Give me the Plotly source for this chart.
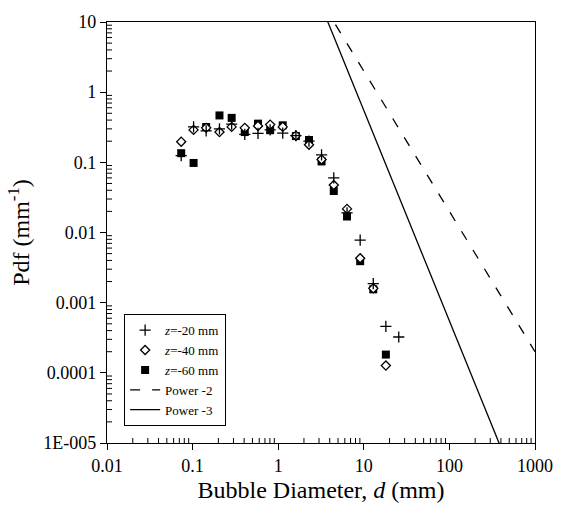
import math
import plotly.graph_objects as go

# Bubble size bins (mm)
diameter = [0.0736, 0.1027, 0.144, 0.206, 0.286, 0.407, 0.581, 0.805, 1.13,
            1.61, 2.29, 3.21, 4.46, 6.37, 9.07, 12.9, 18.1, 25.6]

# Probability density (1/mm) at three heights
pdf_z20 = [0.125, 0.32, 0.28, 0.30, 0.35, 0.25, 0.258, 0.29, 0.26,
           0.24, 0.20, 0.128, 0.060, 0.019, 0.0078, 0.00187, 0.000458, 0.000324]
pdf_z40 = [0.197, 0.29, 0.31, 0.27, 0.32, 0.31, 0.33, 0.345, 0.32,
           0.24, 0.178, 0.11, 0.0475, 0.0217, 0.0043, 0.0016, 0.000127, None]
pdf_z60 = [0.135, 0.098, 0.319, 0.466, 0.43, 0.27, 0.356, 0.287, 0.337,
           0.237, 0.208, 0.103, 0.039, 0.0169, 0.0039, 0.00155, 0.000182, None]

# Reference power laws: pdf = coef * d**exponent
power_coef = {"Power -2": 200.0, "Power -3": 550.0}
power_exp = {"Power -2": -2, "Power -3": -3}
line_d = [1.0, 1000.0]

# the lowest decade label is printed in the old fixed exponent style
y_label_alias = {"0.00001": "1E-005", "10μ": "1E-005", "1e-5": "1E-005"}

FONT = "Liberation Serif"
X_RANGE = [-2, 3]
Y_RANGE = [-5, 1]
MINOR_LEN = 5


def sub_decade_fracs(lo_exp, hi_exp):
    """Axis-domain fractions of the 2..9 sub-decade positions."""
    span = hi_exp - lo_exp
    return [(e + math.log10(k) - lo_exp) / span
            for e in range(lo_exp, hi_exp) for k in range(2, 10)]


fig = go.Figure()

fig.add_trace(go.Scatter(
    x=diameter, y=pdf_z60, mode="markers", name="<i>z</i>=-60 mm",
    marker=dict(symbol="square", size=8, color="black", line=dict(width=0)),
    legendrank=3,
))
fig.add_trace(go.Scatter(
    x=diameter, y=pdf_z40, mode="markers", name="<i>z</i>=-40 mm",
    marker=dict(symbol="diamond", size=7, color="white",
                line=dict(width=1.3, color="black")),
    legendrank=2,
))
fig.add_trace(go.Scatter(
    x=diameter, y=pdf_z20, mode="markers", name="<i>z</i>=-20 mm",
    marker=dict(symbol="cross-thin", size=8,
                line=dict(width=1.3, color="black")),
    legendrank=1,
))

for name, dash, rank in [("Power -2", "10px,12px", 4), ("Power -3", "solid", 5)]:
    fig.add_trace(go.Scatter(
        x=line_d,
        y=[power_coef[name] * d ** power_exp[name] for d in line_d],
        mode="lines", name=name,
        line=dict(color="black", width=1.3, dash=dash),
        legendrank=rank,
    ))

axis_common = dict(
    type="log", zeroline=False, showgrid=False,
    showline=True, linecolor="black", linewidth=1.3, mirror=True,
    tickmode="linear", tick0=0, dtick=1, exponentformat="none",
    ticks="outside", ticklen=6, tickcolor="black",
    tickfont=dict(family=FONT, size=18, color="black"),
)

# inner sub-decade tick combs along the bottom and left axes
tick_line = dict(color="black", width=1)
shapes = []
for f in sub_decade_fracs(*X_RANGE):
    shapes.append(dict(type="line", xref="x domain", yref="y domain",
                       ysizemode="pixel", yanchor=0,
                       x0=f, x1=f, y0=0, y1=MINOR_LEN, line=tick_line))
for f in sub_decade_fracs(*Y_RANGE):
    shapes.append(dict(type="line", xref="x domain", yref="y domain",
                       xsizemode="pixel", xanchor=0,
                       x0=0, x1=MINOR_LEN, y0=f, y1=f, line=tick_line))

fig.update_layout(
    xaxis=dict(
        **axis_common, range=X_RANGE,
        title=dict(text="Bubble Diameter, <i>d</i> (mm)",
                   font=dict(family=FONT, size=24, color="black"), standoff=6),
    ),
    yaxis=dict(
        **axis_common, range=Y_RANGE, labelalias=y_label_alias,
        title=dict(text="Pdf (mm<sup>-1</sup>)",
                   font=dict(family=FONT, size=24, color="black"), standoff=6),
    ),
    shapes=shapes,
    width=565, height=519,
    margin=dict(l=107, r=25, t=15, b=76),
    paper_bgcolor="white", plot_bgcolor="white",
    showlegend=True,
    legend=dict(
        x=0.04, y=0.306, xanchor="left", yanchor="top",
        bgcolor="white", bordercolor="black", borderwidth=1,
        font=dict(family=FONT, size=13, color="black"),
        tracegroupgap=0, itemwidth=30,
    ),
)

fig.write_html("out.html")
